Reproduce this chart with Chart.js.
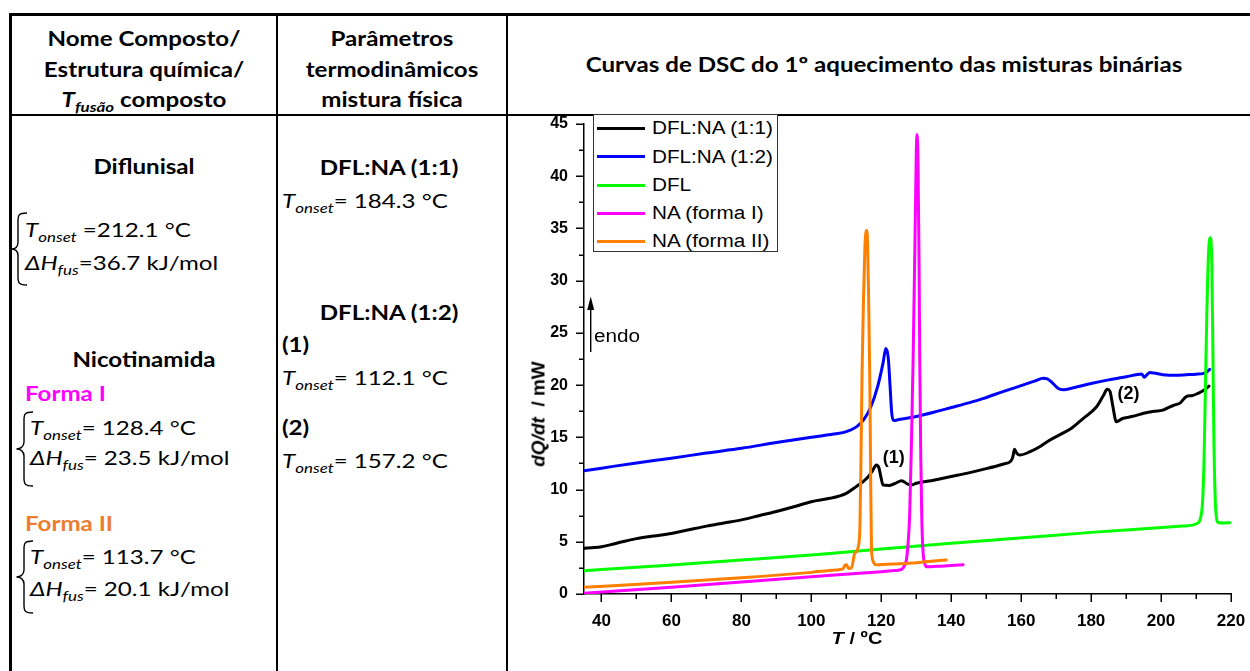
<!DOCTYPE html>
<html><head><meta charset="utf-8">
<script src="https://cdn.jsdelivr.net/npm/chart.js@4.4.1/dist/chart.umd.min.js"></script>
<style>
html,body{margin:0;padding:0;background:#fff}
body{width:1250px;height:671px;overflow:hidden;position:relative}
.ln{position:absolute;background:#000}
.t{position:absolute;font-family:Lato,'Open Sans',sans-serif;font-size:20px;line-height:1;white-space:nowrap;color:#000}
.c{transform-origin:50% 50%;transform:translate(-50%,-50%) scaleX(var(--sx,1.2))}
.l{transform-origin:0 50%;transform:translateY(-50%) scaleX(var(--sx,1.2))}
.b{font-weight:700}
.t sub{font-size:0.7em;vertical-align:-0.35em;line-height:0}
.mag{color:#ff00ff}.org{color:#ed7d31}
#wrap{position:absolute;left:510px;top:94px;width:761px;height:577px}
.a{position:absolute;font-family:'Liberation Sans',Arial,sans-serif;white-space:nowrap;line-height:1;color:#000}
.lgbox{position:absolute;left:593px;top:114px;width:185px;height:138px;border:1px solid #333;background:#fff;box-sizing:border-box}
.lgl{position:absolute;left:597px;width:48px;height:3px}
.lgt{font-size:18px;transform-origin:0 50%;transform:translateY(-50%) scaleX(1.15);left:652px}
svg{position:absolute;left:0;top:0}
</style></head>
<body>
<!-- table lines -->
<div class="ln" style="left:9px;top:13px;width:1241px;height:2.5px"></div>
<div class="ln" style="left:9px;top:113.5px;width:1241px;height:2.5px"></div>
<div class="ln" style="left:9px;top:13px;width:2.5px;height:658px"></div>
<div class="ln" style="left:275.5px;top:13px;width:2.5px;height:658px"></div>
<div class="ln" style="left:505.5px;top:13px;width:2.5px;height:658px"></div>

<!-- header -->
<div class="t c b" id="ref" style="left:143.5px;top:38px">Nome Composto/</div>
<div class="t c b" style="left:143.5px;top:68.5px">Estrutura química/</div>
<div class="t c b" style="left:143.5px;top:99px"><i>T<sub>fusão</sub></i> composto</div>
<div class="t c b" style="left:392px;top:38px">Parâmetros</div>
<div class="t c b" style="left:392px;top:68.5px">termodinâmicos</div>
<div class="t c b" style="left:392px;top:99px">mistura física</div>
<div class="t c b" style="left:884px;top:63.5px">Curvas de DSC do 1º aquecimento das misturas binárias</div>

<!-- column 1 -->
<div class="t c b" style="left:143.5px;top:165.5px">Diflunisal</div>
<div class="t l" style="left:25px;top:229px"><i>T<sub>onset</sub></i> =212.1 °C</div>
<div class="t l" style="left:25px;top:262px"><i>ΔH<sub>fus</sub></i>=36.7 kJ/mol</div>
<div class="t c b" style="left:143.5px;top:358.5px">Nicotinamida</div>
<div class="t l b mag" style="left:25px;top:392.5px">Forma I</div>
<div class="t l" style="left:30px;top:426.5px"><i>T<sub>onset</sub></i>= 128.4 °C</div>
<div class="t l" style="left:30px;top:457px"><i>ΔH<sub>fus</sub></i>= 23.5 kJ/mol</div>
<div class="t l b org" style="left:25px;top:523px">Forma II</div>
<div class="t l" style="left:30px;top:556px"><i>T<sub>onset</sub></i>= 113.7 °C</div>
<div class="t l" style="left:30px;top:588px"><i>ΔH<sub>fus</sub></i>= 20.1 kJ/mol</div>

<!-- column 2 -->
<div class="t c b" style="left:389px;top:166.5px">DFL:NA (1:1)</div>
<div class="t l" style="left:281.5px;top:199.5px"><i>T<sub>onset</sub></i>= 184.3 °C</div>
<div class="t c b" style="left:389px;top:311.5px">DFL:NA (1:2)</div>
<div class="t l b" style="left:281.5px;top:344px">(1)</div>
<div class="t l" style="left:281.5px;top:377px"><i>T<sub>onset</sub></i>= 112.1 °C</div>
<div class="t l b" style="left:281.5px;top:427px">(2)</div>
<div class="t l" style="left:281.5px;top:460px"><i>T<sub>onset</sub></i>= 157.2 °C</div>

<!-- braces -->
<svg width="60" height="671" viewBox="0 0 60 671">
<g fill="none" stroke="#000" stroke-width="1.4">
<path d="M27,213 C19,213 18,215 18,221 L18,242 C18,247 15,249 11.5,249 C15,249 18,251 18,256 L18,277 C18,283 19,285 27,285"/>
<path d="M33,412 C25,412 24,414 24,420 L24,442 C24,447 20,449 16.5,449 C20,449 24,451 24,456 L24,478 C24,484 25,486 33,486"/>
<path d="M33,541 C25,541 24,543 24,549 L24,570 C24,575 20,577 16.5,577 C20,577 24,579 24,584 L24,605 C24,611 25,613 33,613"/>
</g></svg>

<div id="wrap"><canvas id="c" width="761" height="577" style="width:761px;height:577px"></canvas></div>

<!-- legend -->
<div class="lgbox"></div>
<div class="lgl" style="top:126.8px;background:#000"></div>
<div class="a lgt" style="top:128.3px">DFL:NA (1:1)</div>
<div class="lgl" style="top:155.2px;background:#0000ff"></div>
<div class="a lgt" style="top:156.7px">DFL:NA (1:2)</div>
<div class="lgl" style="top:183.5px;background:#00ff00"></div>
<div class="a lgt" style="top:185px">DFL</div>
<div class="lgl" style="top:211.8px;background:#ff00ff"></div>
<div class="a lgt" style="top:213.3px">NA (forma I)</div>
<div class="lgl" style="top:239.5px;background:#ff8000"></div>
<div class="a lgt" style="top:241px">NA (forma II)</div>

<!-- endo arrow -->
<svg width="1250" height="671" viewBox="0 0 1250 671" style="pointer-events:none">
<line x1="590.7" y1="305" x2="590.7" y2="352" stroke="#000" stroke-width="1.4"/>
<path d="M590.7,296.5 L587.2,310 L594.2,310 Z" fill="#000"/>
</svg>
<div class="a" style="left:594px;top:335.5px;font-size:18px;transform-origin:0 50%;transform:translateY(-50%) scaleX(1.15)">endo</div>

<!-- axis titles -->
<div class="a" style="left:537.5px;top:414px;font-size:19px;font-weight:700;transform:translate(-50%,-50%) rotate(-90deg)"><i>dQ/dt</i>&nbsp;&nbsp;/ mW</div>
<div class="a" style="left:857.4px;top:637.5px;font-size:17px;font-weight:700;transform:translate(-50%,-50%) scaleX(1.18)"><i>T</i> / ºC</div>

<script>
// ---- data (temperature °C, heat flow mW) ----
const dflNa11 = [[35,4.38],[38,4.45],[40,4.53],[42.4,4.7],[46,5.0],[50,5.3],[55,5.55],[60,5.8],[65,6.15],[70,6.5],[75,6.8],[80,7.1],[85,7.5],[90,7.9],[95,8.35],[100,8.84],[105.3,9.16],[110,9.64],[112.9,10.3],[114.8,10.76],[116.2,11.2],[117.4,11.75],[118.6,12.36],[119.3,12.1],[119.9,11.2],[120.5,10.44],[122.4,10.4],[124,10.6],[125.8,10.85],[127.7,10.5],[128.8,10.45],[130,10.6],[135,10.9],[140,11.25],[145,11.6],[150,12.0],[155,12.45],[157,12.7],[157.6,13.1],[158.1,13.85],[158.7,13.5],[159.6,13.3],[162.4,13.6],[165.3,14.1],[168,14.7],[171.9,15.4],[174.5,15.9],[177.7,16.8],[181.5,17.9],[183.5,19.0],[184.6,19.6],[185.4,19.4],[186.2,18.0],[187.2,16.5],[189,16.8],[191,16.95],[193,17.1],[195,17.3],[198,17.5],[200.5,17.6],[202.4,17.9],[204,18.1],[205.5,18.3],[207.2,18.9],[209,19.0],[210.5,19.2],[212,19.45],[213.7,19.9]];
const dflNa12 = [[35,11.8],[40,12.05],[50,12.55],[60,13.0],[70,13.5],[80,13.95],[90,14.5],[100,15.0],[105,15.25],[110,15.55],[112.9,16.0],[115,16.7],[117,17.9],[119,19.9],[120.5,22.1],[121.3,23.5],[122,22.6],[122.5,20.0],[123,17.3],[123.6,16.6],[125,16.7],[130,17.0],[135,17.4],[140,17.85],[145,18.3],[149,18.7],[155,19.4],[160,19.95],[164,20.4],[166.3,20.65],[167.5,20.6],[169,20.2],[170.5,19.7],[172,19.55],[175,19.75],[180,20.15],[185,20.5],[190,20.8],[194.5,21.07],[195.2,20.75],[196,21.0],[196.8,21.2],[198,21.15],[200.5,21.0],[205,20.95],[210,21.05],[212,21.1],[213.2,21.3],[213.9,21.5]];
const dfl = [[35,2.23],[50,2.55],[60,2.78],[80,3.25],[100,3.74],[111,4.05],[120,4.3],[140,4.85],[158.6,5.33],[180,5.9],[195,6.25],[206.2,6.5],[210.4,6.77],[211.3,7.3],[211.9,9],[212.3,13],[212.7,20],[213.1,27],[213.6,32.8],[214.05,34.1],[214.5,32],[214.8,24],[215.1,15],[215.5,9],[215.9,7.2],[216.3,6.85],[218,6.8],[219.6,6.82]];
const naFormaI = [[35,0.07],[60,0.65],[80,1.15],[100,1.65],[120,2.14],[124,2.25],[125.8,2.35],[126.6,2.7],[127.2,3.3],[127.7,5],[128.1,7.4],[128.6,14],[129.1,22.4],[129.6,33],[130.0,42],[130.2,44],[130.5,41.5],[130.8,32],[131.0,22.4],[131.3,13],[131.6,7],[132.0,3.8],[132.4,2.96],[133.0,2.6],[136,2.65],[140,2.72],[143.4,2.8]];
const naFormaII = [[35,0.64],[60,1.12],[80,1.55],[100,2.07],[107,2.3],[109,2.4],[109.6,2.75],[110.1,2.8],[110.6,2.45],[111.5,2.5],[112.4,3.9],[112.9,4.05],[113.4,4.5],[113.9,6.5],[114.2,13],[114.5,21],[114.9,28],[115.3,33],[115.75,34.8],[116.1,33.5],[116.4,28],[116.7,21],[117.0,10],[117.2,4.5],[117.6,3.2],[118.6,2.8],[125,2.9],[130,3.0],[135,3.15],[138.6,3.26]];

const seriesNames = ['DFL:NA (1:1)','DFL:NA (1:2)','DFL','NA (forma I)','NA (forma II)'];
const seriesColors = ['#000000','#0000ff','#00ff00','#ff00ff','#ff8000'];
const xMajor = [40,60,80,100,120,140,160,180,200,220];
const xMinor = [50,70,90,110,130,150,170,190,210];
const yMajor = [0,5,10,15,20,25,30,35,40,45];
const yMinor = [2.5,7.5,12.5,17.5,22.5,27.5,32.5,37.5,42.5];
const peakLabels = ['(1)','(2)'];
const peakLabelX = [123.6,190.7];
const peakLabelY = [13.0,19.1];

// calibrate horizontal stretch of table text
(function(){const r=document.getElementById('ref');const s=193/r.offsetWidth;document.body.style.setProperty('--sx',s.toFixed(3));})();

const allSeries=[dflNa11,dflNa12,dfl,naFormaI,naFormaII];
const drawOrder=[5,4,3,2,1];
Chart.defaults.font.family="'Liberation Sans', Arial, sans-serif";
Chart.defaults.color='#000';

const tickMarks={id:'tickMarks',afterDraw(chart){
  const {ctx,scales:{x,y}}=chart;ctx.save();ctx.strokeStyle='#000';ctx.lineWidth=1.5;ctx.beginPath();
  xMajor.forEach(v=>{const p=Math.round(x.getPixelForValue(v))+0.25;ctx.moveTo(p,x.top);ctx.lineTo(p,x.top+8);});
  xMinor.forEach(v=>{const p=Math.round(x.getPixelForValue(v))+0.25;ctx.moveTo(p,x.top);ctx.lineTo(p,x.top+5);});
  yMajor.forEach(v=>{const p=Math.round(y.getPixelForValue(v))+0.25;ctx.moveTo(y.right,p);ctx.lineTo(y.right-8,p);});
  yMinor.forEach(v=>{const p=Math.round(y.getPixelForValue(v))+0.25;ctx.moveTo(y.right,p);ctx.lineTo(y.right-5,p);});
  ctx.stroke();ctx.restore();}};
const peakText={id:'peakText',afterDatasetsDraw(chart){
  const {ctx,scales:{x,y}}=chart;ctx.save();ctx.font="bold 18px 'Liberation Sans', Arial";ctx.fillStyle='#000';ctx.textAlign='center';ctx.textBaseline='middle';
  peakLabels.forEach((t,i)=>ctx.fillText(t,x.getPixelForValue(peakLabelX[i]),y.getPixelForValue(peakLabelY[i])));ctx.restore();}};

new Chart(document.getElementById('c'),{
  type:'line',
  data:{datasets:allSeries.map((s,i)=>({label:seriesNames[i],data:s.map(p=>({x:p[0],y:p[1]})),borderColor:seriesColors[i],backgroundColor:seriesColors[i],borderWidth:3,pointRadius:0,fill:false,order:drawOrder[i],cubicInterpolationMode:'monotone',borderJoinStyle:'round',borderCapStyle:'round'}))},
  options:{
    responsive:false,animation:false,devicePixelRatio:1,
    layout:{padding:{left:0,right:40,top:30,bottom:0}},
    plugins:{legend:{display:false},tooltip:{enabled:false}},
    scales:{
      x:{type:'linear',position:'bottom',min:35,max:220,
        grid:{display:false,drawTicks:false},border:{display:true,color:'#000',width:1.5},
        afterBuildTicks:s=>{s.ticks=xMajor.map(v=>({value:v}));},
        afterFit:s=>{s.height=77;},
        ticks:{padding:17,autoSkip:false,maxRotation:0,color:'#000',font:{size:17,weight:'bold'}}},
      y:{type:'linear',position:'left',min:0,max:45,
        grid:{display:false,drawTicks:false},border:{display:true,color:'#000',width:1.5},
        afterBuildTicks:s=>{s.ticks=yMajor.map(v=>({value:v}));},
        afterFit:s=>{s.width=74;},
        ticks:{padding:16,autoSkip:false,color:'#000',font:{size:16,weight:'bold'}}}
    }
  },
  plugins:[tickMarks,peakText]
});
</script>
</body></html>
